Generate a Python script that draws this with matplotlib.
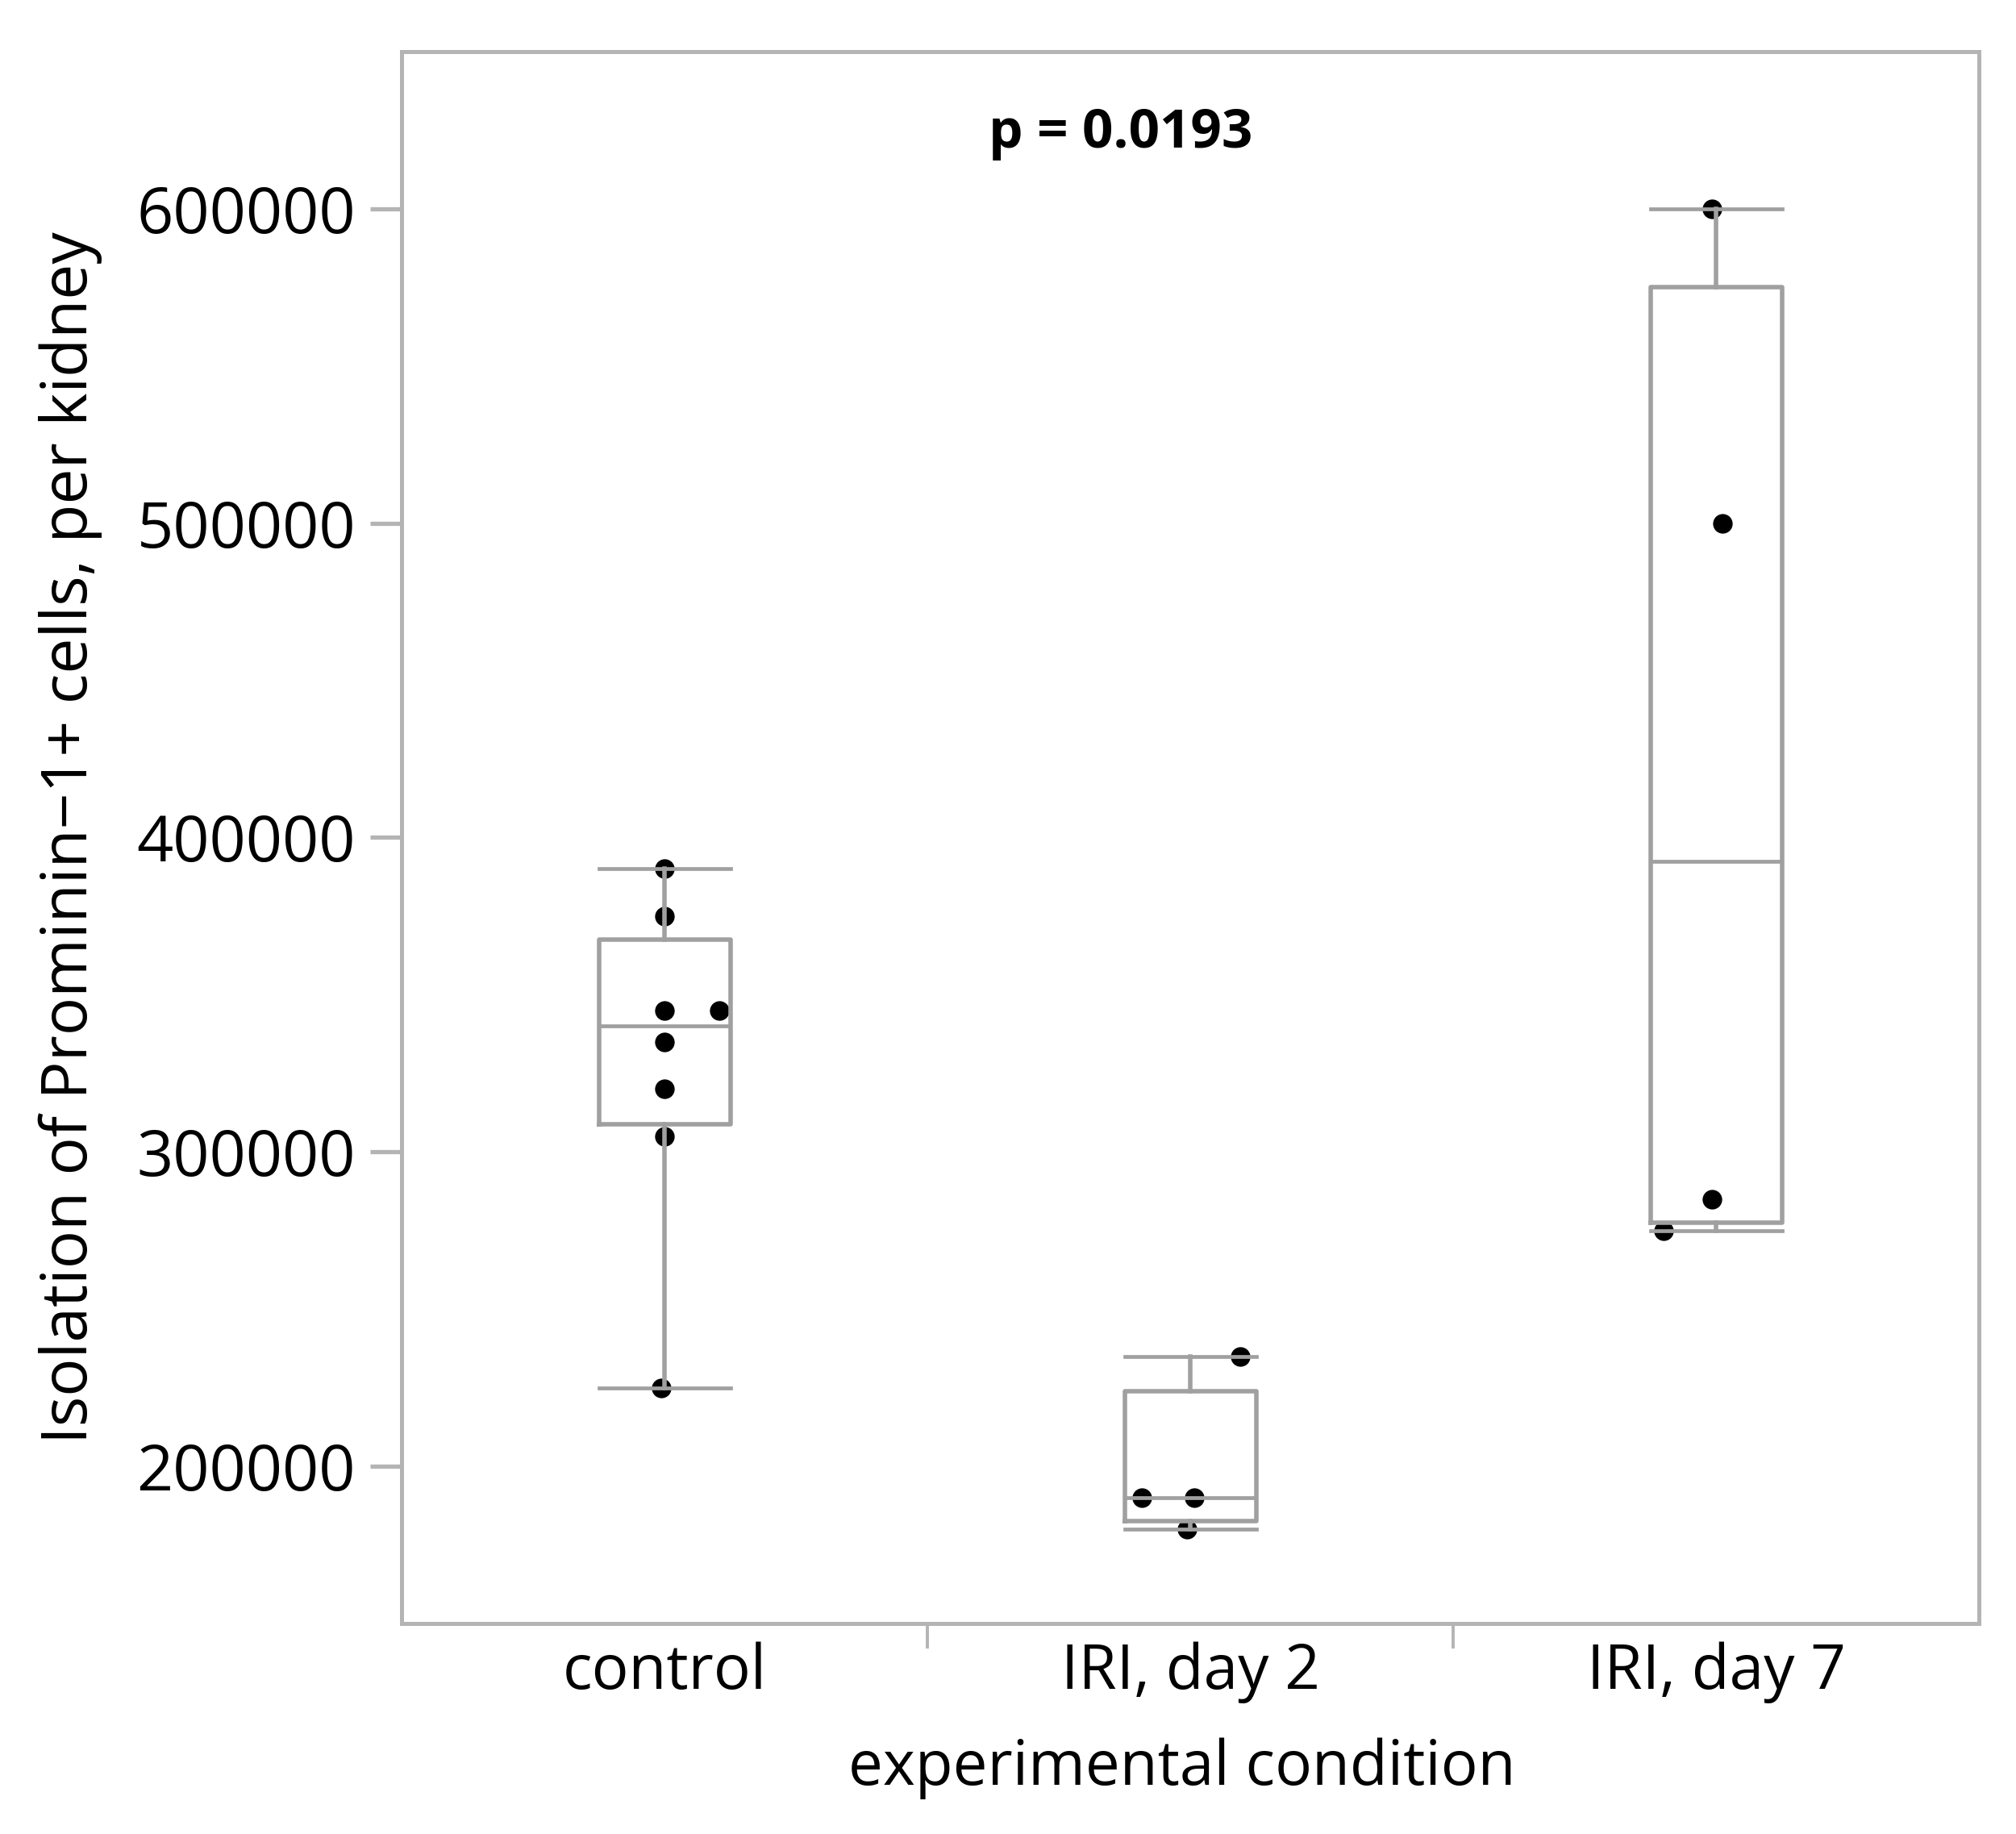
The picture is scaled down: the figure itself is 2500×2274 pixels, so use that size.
import numpy as np
import matplotlib

matplotlib.use("Agg")
from matplotlib import pyplot as plt

plt.rcParams["font.family"] = ["Open Sans", "DejaVu Sans"]

categories = ["control", "IRI, day 2", "IRI, day 7"]

control_values = [390000, 375000, 345000, 345000, 335000, 320000, 305000, 225000]
day2_values = [235000, 190000, 190000, 180000]
day7_values = [600000, 500000, 285000, 275000]

# horizontal jitter of the dots (category units)
control_jitter = [0.0, 0.0, 0.0, 0.105, 0.0, 0.0, 0.0, -0.006]
day2_jitter = [0.095, -0.092, 0.008, -0.006]
day7_jitter = [-0.008, 0.012, -0.008, -0.10]

y_ticks = [200000, 300000, 400000, 500000, 600000]
p_text = "p = 0.0193"

groups = [control_values, day2_values, day7_values]
jitters = [control_jitter, day2_jitter, day7_jitter]

BOX_GREY = "#a0a0a0"
FRAME_GREY = "#b4b4b4"


def box_stats(values):
    data = np.asarray(values, dtype=float)
    q1, med, q3 = np.percentile(data, [25, 50, 75], method="weibull")
    iqr = q3 - q1
    inside = data[(data >= q1 - 1.5 * iqr) & (data <= q3 + 1.5 * iqr)]
    return {
        "med": med,
        "q1": q1,
        "q3": q3,
        "whislo": inside.min(),
        "whishi": inside.max(),
        "fliers": [],
    }


fig = plt.figure(figsize=(25, 22.74), dpi=100)
ax = fig.add_axes([0.1992, 0.1148, 0.9816 - 0.1992, 0.9719 - 0.1148])

positions = np.arange(len(categories))

for pos, values, jit in zip(positions, groups, jitters):
    ax.plot(pos + np.asarray(jit), values, "o", color="black", markersize=17.5,
            markeredgewidth=0, zorder=2)

line_kw = {"color": BOX_GREY, "linewidth": 4.0}
ax.bxp(
    [box_stats(v) for v in groups],
    positions=positions,
    widths=0.25,
    capwidths=0.25,
    showfliers=False,
    patch_artist=False,
    boxprops=line_kw,
    whiskerprops=line_kw,
    capprops={"color": BOX_GREY, "linewidth": 3.4},
    medianprops={"color": BOX_GREY, "linewidth": 3.4},
    zorder=3,
)

ax.set_xlim(-0.5, 2.5)
ax.set_ylim(150000, 650000)

ax.set_yticks(y_ticks)
ax.set_yticklabels([str(t) for t in y_ticks])
ax.tick_params(axis="y", length=28, width=3.8, color=FRAME_GREY, pad=13,
               labelsize=57)

ax.set_xticks(positions)
ax.set_xticklabels(categories)
ax.set_xticks([0.5, 1.5], minor=True)
ax.tick_params(axis="x", which="major", length=0, pad=16, labelsize=55)
ax.tick_params(axis="x", which="minor", length=22, width=2.8, color=FRAME_GREY)

for spine in ax.spines.values():
    spine.set_color(FRAME_GREY)
    spine.set_linewidth(3.6)

ax.set_ylabel("Isolation of Prominin\u22121+ cells, per kidney", fontsize=56.5,
              va="center")
ax.yaxis.set_label_coords(-0.21, 0.5)
ax.set_xlabel("experimental condition", fontsize=55, va="center")
ax.xaxis.set_label_coords(0.495, -0.0924)

ax.text(0.456, 0.948, p_text, transform=ax.transAxes, ha="center", va="center",
        fontsize=48.5, fontweight="bold")

fig.savefig("out.png", dpi=100)
plt.close(fig)
